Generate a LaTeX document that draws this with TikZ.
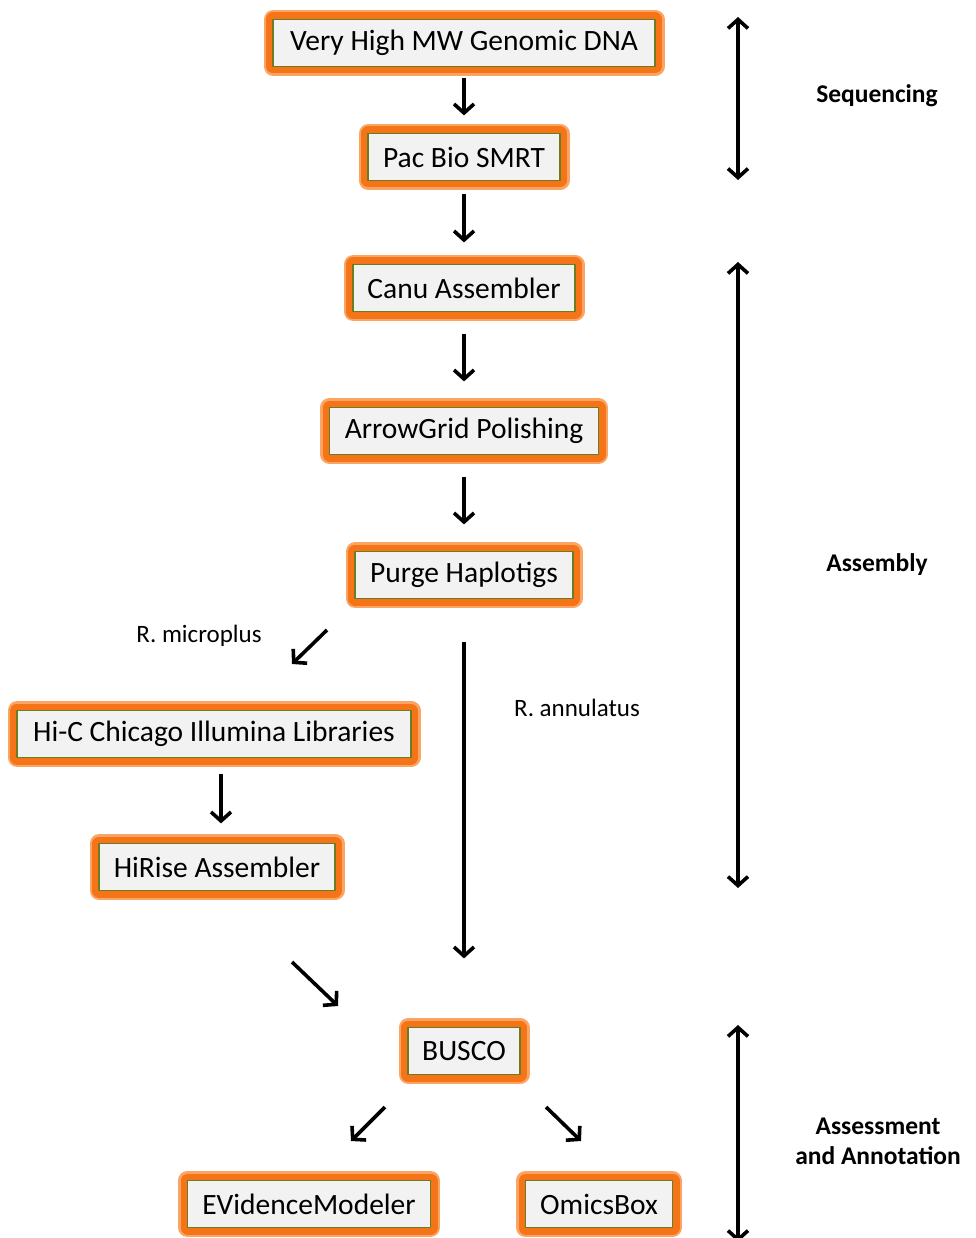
\documentclass[tikz,border=0pt]{standalone}
\usepackage{fontspec}
\setmainfont{Carlito}
\usetikzlibrary{arrows.meta}
\definecolor{boxorange}{RGB}{245,116,24}
\definecolor{boxglow}{RGB}{250,165,100}
\definecolor{boxline}{RGB}{105,125,35}
\definecolor{boxfill}{RGB}{242,242,242}
\tikzset{
  stepbox/.style={draw=boxline, line width=1.2pt, fill=boxfill, minimum height=47pt,
    inner sep=0pt, font=\fontsize{29.5}{34}\selectfont, text=black, line join=round,
    preaction={draw=boxglow, line width=19pt, line join=round},
    preaction={draw=boxorange, line width=14pt, line join=round}},
  tip/.style={},
  arr/.style={line width=3.6pt, -{Straight Barb[length=9pt,width=20pt,line width=3.6pt]}},
  darr/.style={line width=3.6pt, {Straight Barb[length=9pt,width=20pt,line width=3.6pt]}-{Straight Barb[length=9pt,width=20pt,line width=3.6pt]}},
  lab/.style={font=\fontsize{25}{30}\selectfont, text=black},
  phase/.style={font=\bfseries\fontsize{25.5}{30}\selectfont, text=black, align=center}
}
\begin{document}
\begin{tikzpicture}[x=1pt,y=-1pt]
\useasboundingbox (0,0) rectangle (975,1238);
\node[stepbox, minimum width=382pt] (b1) at (464,43) {Very High MW Genomic DNA};
\node[stepbox, minimum width=192pt] (b2) at (464,157) {Pac Bio SMRT};
\node[stepbox, minimum width=222pt] (b3) at (464,288) {Canu Assembler};
\node[stepbox, minimum width=269pt] (b4) at (464,431) {ArrowGrid Polishing};
\node[stepbox, minimum width=218pt] (b5) at (464,575) {Purge Haplotigs};
\node[stepbox, minimum width=394pt] (b6) at (214,734) {Hi-C Chicago Illumina Libraries};
\node[stepbox, minimum width=236pt] (b7) at (217,867) {HiRise Assembler};
\node[stepbox, minimum width=112pt] (b8) at (464,1051) {BUSCO};
\node[stepbox, minimum width=243pt] (b9) at (309,1204) {EVidenceModeler};
\node[stepbox, minimum width=147pt] (b10) at (599,1204) {OmicsBox};

\node[lab] (rm) at (199,636) {R. microplus};
\node[lab] (ra) at (577,708) {R. annulatus};
\node[phase] (seq) at (877,96) {Sequencing};
\node[phase] (asm) at (877,565) {Assembly};
\node[phase] (ann) at (878,1141) {Assessment\\and Annotation};

\draw[arr] ([yshift=-10.5pt]b1.south) -- ([yshift=17.5pt]b2.north);
\draw[arr] ([yshift=-12.5pt]b2.south) -- ([yshift=21.5pt]b3.north);
\draw[arr] ([yshift=-21.5pt]b3.south) -- ([yshift=25.5pt]b4.north);
\draw[arr] ([yshift=-21.5pt]b4.south) -- ([yshift=26.5pt]b5.north);
\draw[arr] ([yshift=-42.5pt]b5.south) -- ([yshift=68.5pt]b8.north);
\draw[arr] ([xshift=7pt,yshift=-15.5pt]b6.south) -- ([xshift=4pt,yshift=19.5pt]b7.north);

\coordinate (m1) at (327,630);
\coordinate (m2) at (292,664);
\coordinate (h1) at (292,962);
\coordinate (h2) at (338,1006);
\coordinate (e1) at (385,1107);
\coordinate (e2) at (351,1141);
\coordinate (o1) at (546,1107);
\coordinate (o2) at (581,1141);
\draw[arr] (m1) -- (m2);
\draw[arr] (h1) -- (h2);
\draw[arr] (e1) -- (e2);
\draw[arr] (o1) -- (o2);

\coordinate (s1) at (738,17);
\coordinate (s2) at (738,180);
\coordinate (a1) at (738,262);
\coordinate (a2) at (738,888);
\coordinate (n1) at (738,1025);
\coordinate (n2) at (738,1242);
\draw[darr] (s1) -- (s2);
\draw[darr] (a1) -- (a2);
\draw[darr] (n1) -- (n2);
\end{tikzpicture}
\end{document}
